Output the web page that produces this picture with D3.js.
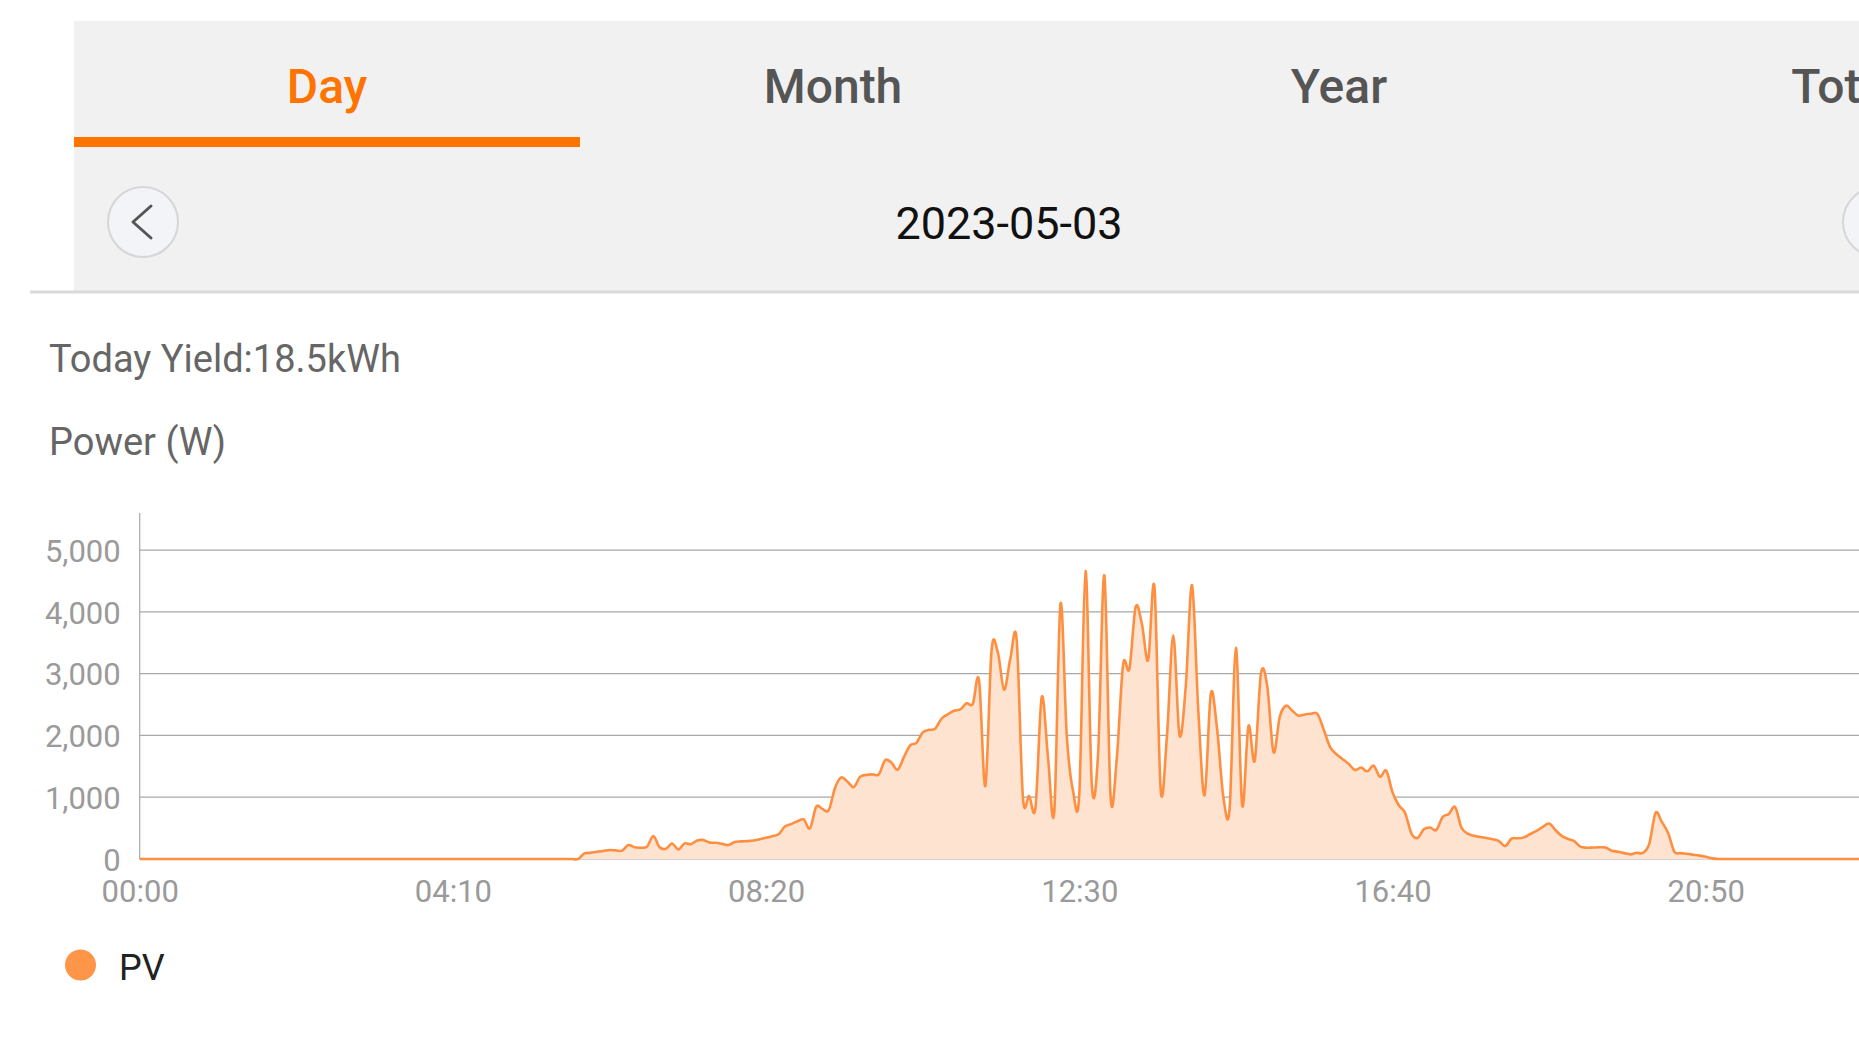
<!DOCTYPE html>
<html>
<head>
<meta charset="utf-8">
<script src="https://cdn.jsdelivr.net/npm/d3@7"></script>
<style>
  html, body { margin: 0; padding: 0; background: #ffffff; overflow: hidden; }
  svg { display: block; font-family: Roboto, "Noto Sans", sans-serif; }
</style>
</head>
<body>
<svg id="chart" width="1859" height="1039"></svg>
<script>
// ---------- data ----------
const tabs = ["Day", "Month", "Year", "Total"];
const activeTab = "Day";
const dateLabel = "2023-05-03";
const yieldLabel = "Today Yield:18.5kWh";
const unitLabel = "Power (W)";
const seriesName = "PV";
const xTickIndex = [0, 50, 100, 150, 200, 250];
const xTickLabels = ["00:00", "04:10", "08:20", "12:30", "16:40", "20:50"];
const yTicks = [0, 1000, 2000, 3000, 4000, 5000];
// PV power (W), one value every 5 minutes from 00:00 to 23:55
const pvPower = [
  0,0,0,0,0,0,0,0,0,0,0,0,                               // 00
  0,0,0,0,0,0,0,0,0,0,0,0,                               // 01
  0,0,0,0,0,0,0,0,0,0,0,0,                               // 02
  0,0,0,0,0,0,0,0,0,0,0,0,                               // 03
  0,0,0,0,0,0,0,0,0,0,0,0,                               // 04
  0,0,0,0,0,0,0,0,0,0,0,90,                              // 05
  100,118,130,145,140,135,225,190,183,200,370,190,       // 06
  165,250,155,253,240,300,305,265,263,245,226,275,       // 07
  285,290,300,320,345,370,400,525,565,610,640,495,       // 08
  845,810,790,1150,1320,1250,1165,1330,1360,1370,1370,1600, // 09
  1560,1445,1650,1840,1880,2050,2090,2110,2270,2340,2400,2420, // 10
  2520,2510,2890,1180,3380,3340,2740,3250,3550,1000,1020,830, // 11
  2620,1650,760,4130,2000,1100,1050,4660,1200,1700,4590,1000, // 12
  1650,3150,3080,4080,3800,3220,4400,1110,2000,3620,2000,2800, // 13
  4430,2400,1030,2680,2100,1000,820,3420,870,2150,1590,3000,  // 14
  2800,1730,2300,2480,2400,2320,2340,2350,2350,2100,1820,1700, // 15
  1620,1540,1440,1480,1420,1510,1330,1430,1080,870,750,420,   // 16
  340,480,510,470,680,730,840,510,410,375,355,340,           // 17
  320,290,210,330,335,350,405,455,520,575,470,375,           // 18
  325,290,200,183,185,190,185,134,118,95,75,100,             // 19
  100,250,745,600,420,118,95,85,70,55,35,10,                 // 20
  0,0,0,0,0,0,0,0,0,0,0,0,                               // 21
  0,0,0,0,0,0,0,0,0,0,0,0,                               // 22
  0,0,0,0,0,0,0,0,0,0,0,0                                // 23
];

// ---------- layout ----------
const svg = d3.select("#chart");
const W = 1859;

// header panel
svg.append("rect").attr("x", 74).attr("y", 21).attr("width", W - 74).attr("height", 270).attr("fill", "#f1f1f1");
svg.append("rect").attr("x", 30).attr("y", 290.5).attr("width", W - 30).attr("height", 3).attr("fill", "#dadada");

const tabScale = d3.scaleBand().domain(tabs).range([74, 74 + 506 * tabs.length]);
svg.selectAll("text.tab").data(tabs).join("text")
  .attr("class", "tab")
  .attr("x", d => tabScale(d) + tabScale.bandwidth() / 2)
  .attr("y", 103)
  .attr("text-anchor", "middle")
  .attr("font-size", 48)
  .attr("font-weight", 500)
  .attr("fill", d => d === activeTab ? "#ff7300" : "#555555")
  .text(d => d);
svg.append("rect").attr("x", tabScale(activeTab)).attr("y", 137).attr("width", tabScale.bandwidth()).attr("height", 10).attr("fill", "#ff7300");

// nav buttons
svg.append("circle").attr("cx", 143).attr("cy", 222).attr("r", 35).attr("fill", "#f3f4f8").attr("stroke", "#d6d6d6").attr("stroke-width", 2);
svg.append("path").attr("d", "M151,206 L133,222 L151,238").attr("fill", "none").attr("stroke", "#555").attr("stroke-width", 3).attr("stroke-linecap", "round").attr("stroke-linejoin", "round");
svg.append("circle").attr("cx", 1878).attr("cy", 222).attr("r", 35).attr("fill", "#f3f4f8").attr("stroke", "#d6d6d6").attr("stroke-width", 2);

svg.append("text").attr("x", 1009).attr("y", 239).attr("text-anchor", "middle")
  .attr("font-size", 45).attr("fill", "#111").text(dateLabel);

// titles
svg.append("text").attr("x", 49).attr("y", 372).attr("font-size", 38).attr("fill", "#666").text(yieldLabel);
svg.append("text").attr("x", 49).attr("y", 455).attr("font-size", 38).attr("fill", "#666").text(unitLabel);

// ---------- chart ----------
const x0 = 139.7, step = 6.264;
const x = d3.scaleLinear().domain([0, pvPower.length - 1]).range([x0, x0 + step * (pvPower.length - 1)]);
const y = d3.scaleLinear().domain([0, 5600]).range([859, 513]);

const g = svg.append("g");
// grid lines
g.selectAll("line.grid").data(yTicks).join("line")
  .attr("class", "grid")
  .attr("x1", x0).attr("x2", W)
  .attr("y1", d => y(d)).attr("y2", d => y(d))
  .attr("stroke", "#a8a8a8").attr("stroke-width", 1.2);
// y axis line
g.append("line").attr("x1", x0).attr("x2", x0).attr("y1", 513).attr("y2", 859).attr("stroke", "#a8a8a8").attr("stroke-width", 1.2);

// y labels
const yAxis = d3.axisLeft(y).tickValues(yTicks).tickFormat(d3.format(",")).tickSize(0).tickPadding(19);
const ya = g.append("g").attr("transform", `translate(${x0},0)`).call(yAxis);
ya.select(".domain").remove();
ya.selectAll("text").attr("font-size", 31).attr("fill", "#9a9a9a").attr("font-family", "Roboto, sans-serif").attr("dy", "0.36em");

// x labels
const xAxis = d3.axisBottom(x).tickValues(xTickIndex).tickFormat((d, i) => xTickLabels[i]).tickSize(0).tickPadding(0);
const xa = g.append("g").attr("transform", "translate(0,902)").call(xAxis);
xa.select(".domain").remove();
xa.selectAll("text").attr("font-size", 31).attr("fill", "#9a9a9a").attr("font-family", "Roboto, sans-serif").attr("dy", 0).attr("y", 0);

// area + line
const curve = d3.curveCardinal.tension(0);
const area = d3.area().x((d, i) => x(i)).y0(y(0)).y1(d => y(d)).curve(curve);
const line = d3.line().x((d, i) => x(i)).y(d => y(d)).curve(curve);
g.append("path").datum(pvPower).attr("d", area).attr("fill", "#ffe3d1");
g.append("path").datum(pvPower).attr("d", line).attr("fill", "none").attr("stroke", "#ff8f40").attr("stroke-width", 2.6).attr("stroke-linejoin", "round");

// legend
svg.append("circle").attr("cx", 80.5).attr("cy", 965).attr("r", 15.5).attr("fill", "#ff9548");
svg.append("text").attr("x", 119).attr("y", 980).attr("font-size", 36).attr("fill", "#222").text(seriesName);
</script>
</body>
</html>
